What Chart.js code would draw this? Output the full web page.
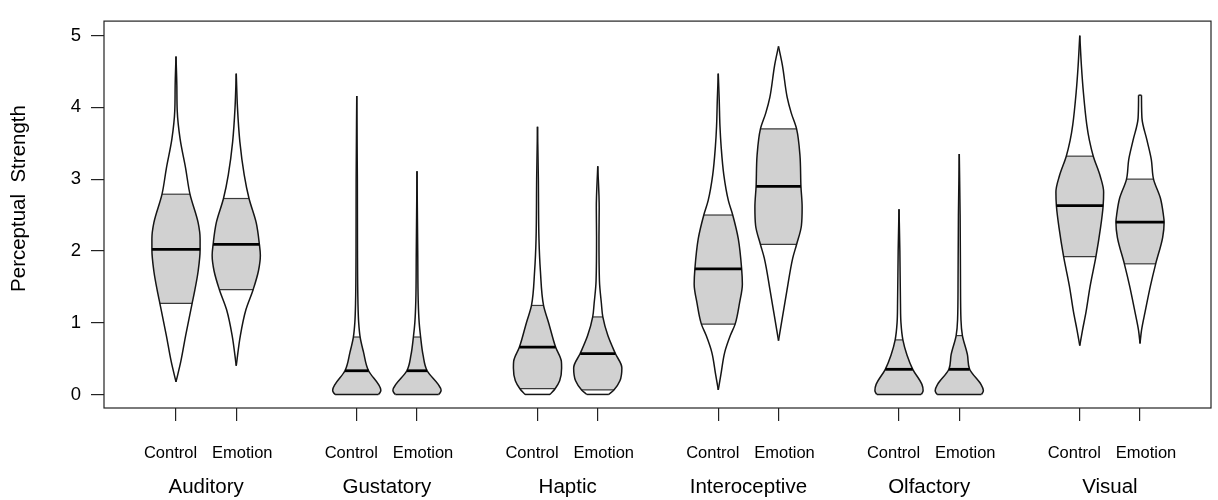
<!DOCTYPE html>
<html>
<head>
<meta charset="utf-8">
<script src="https://cdn.jsdelivr.net/npm/chart.js@4.4.1/dist/chart.umd.min.js"></script>
<style>
  html, body { margin: 0; padding: 0; background: #ffffff; }
  #wrap { width: 1218px; height: 500px; }
</style>
</head>
<body>
<div id="wrap"><canvas id="chart" width="1218" height="500"></canvas></div>
<script>
// ---------------- DATA ----------------
const groups = ["Auditory", "Gustatory", "Haptic", "Interoceptive", "Olfactory", "Visual"];
const conditions = ["Control", "Emotion"];
const yTickValues = [0, 1, 2, 3, 4, 5];
const yTitle = "Perceptual  Strength";

// one entry per bean, order: group x condition
const beanMedian = [2.02, 2.09, 0.33, 0.33, 0.66, 0.57, 1.75, 2.90, 0.35, 0.35, 2.63, 2.40];
const beanLower  = [1.27, 1.46, 0.00, 0.00, 0.08, 0.063, 0.98, 2.09, 0.00, 0.00, 1.92, 1.82];
const beanUpper  = [2.79, 2.73, 0.80, 0.80, 1.24, 1.08, 2.50, 3.70, 0.76, 0.82, 3.32, 3.00];

// density outline of each bean: rating values and relative density (1 = widest)
const densityY = [
  [0.175, 0.46, 0.82, 1.27, 1.40, 1.72, 2.02, 2.17, 2.39, 2.79, 3.15, 3.56, 3.96, 4.30, 4.71],
  [0.40, 0.82, 1.18, 1.46, 1.72, 1.94, 2.09, 2.39, 2.73, 3.06, 3.52, 4.00, 4.47],
  [0, 0.03, 0.06, 0.14, 0.33, 0.59, 0.80, 1.00, 1.27, 2.00, 3.00, 4.16],
  [0, 0.03, 0.06, 0.14, 0.33, 0.55, 0.80, 1.00, 1.30, 2.00, 3.11],
  [0, 0.08, 0.19, 0.37, 0.46, 0.66, 1.00, 1.24, 1.72, 2.17, 3.00, 3.73],
  [0, 0.063, 0.19, 0.37, 0.57, 0.82, 1.08, 1.27, 1.58, 2.20, 2.60, 3.18],
  [0.063, 0.28, 0.59, 0.82, 0.98, 1.27, 1.54, 1.75, 2.17, 2.50, 2.70, 3.06, 3.45, 3.74, 4.10, 4.47],
  [0.75, 1.09, 1.45, 1.90, 2.09, 2.35, 2.61, 2.90, 3.33, 3.70, 3.92, 4.14, 4.59, 4.85],
  [0, 0.03, 0.054, 0.14, 0.35, 0.55, 0.76, 1.00, 1.27, 2.00, 2.58],
  [0, 0.03, 0.054, 0.14, 0.35, 0.55, 0.82, 1.04, 1.60, 2.50, 3.35],
  [0.68, 0.89, 1.15, 1.51, 1.92, 2.32, 2.63, 2.82, 3.04, 3.32, 3.54, 3.76, 4.21, 4.57, 5.00],
  [0.71, 0.89, 1.15, 1.51, 1.82, 2.19, 2.40, 2.50, 2.73, 3.00, 3.27, 3.54, 3.85, 4.17]
];
const densityW = [
  [0, 0.20, 0.40, 0.67, 0.75, 0.92, 1.00, 1.00, 0.92, 0.58, 0.40, 0.17, 0.05, 0.035, 0],
  [0, 0.17, 0.40, 0.70, 0.92, 1.00, 0.96, 0.83, 0.53, 0.33, 0.15, 0.05, 0],
  [0.90, 0.97, 1.00, 0.90, 0.49, 0.28, 0.14, 0.08, 0.05, 0.03, 0.025, 0],
  [0.90, 0.97, 1.00, 0.88, 0.42, 0.25, 0.15, 0.09, 0.05, 0.03, 0],
  [0.52, 0.73, 0.92, 1.00, 0.99, 0.75, 0.46, 0.25, 0.12, 0.06, 0.035, 0],
  [0.46, 0.67, 0.92, 1.00, 0.73, 0.42, 0.21, 0.15, 0.07, 0.05, 0.06, 0],
  [0, 0.11, 0.27, 0.50, 0.70, 0.88, 1.00, 0.97, 0.83, 0.60, 0.42, 0.23, 0.12, 0.07, 0.04, 0],
  [0, 0.17, 0.35, 0.59, 0.75, 0.95, 0.98, 0.93, 0.89, 0.75, 0.53, 0.36, 0.16, 0],
  [0.92, 0.98, 1.00, 0.95, 0.57, 0.33, 0.16, 0.08, 0.06, 0.035, 0],
  [0.92, 0.98, 1.00, 0.90, 0.43, 0.34, 0.13, 0.07, 0.05, 0.035, 0],
  [0, 0.11, 0.26, 0.43, 0.67, 0.86, 0.97, 0.99, 0.85, 0.56, 0.40, 0.29, 0.15, 0.07, 0],
  [0, 0.06, 0.21, 0.43, 0.65, 0.94, 1.00, 0.97, 0.85, 0.56, 0.47, 0.29, 0.08, 0.06]
];

// ---------------- STYLE / LAYOUT ----------------
const FONT = "'Liberation Sans', Arial, Helvetica, sans-serif";
const X_MIN = -0.195, X_MAX = 18.178;
const Y_MIN = -0.189, Y_MAX = 5.202;
const HALF_W = 0.4;             // half width of the widest bean, in x units
const AXIS = '#222222';
const OUTLINE = '#151515';
const BAND_FILL = '#d1d1d1';
const BAND_EDGE = '#3a3a3a';

const positions = [];
groups.forEach((g, gi) => conditions.forEach((c, ci) => positions.push(gi * 3 + ci + 1)));

function nearestIndex(arr, v) {
  let best = 0;
  for (let i = 0; i < arr.length; i++) if (Math.abs(arr[i] - v) < Math.abs(arr[best] - v)) best = i;
  return best;
}

const datasets = [];
function segment(p, y, w, color, width, order) {
  return {
    data: [{x: p - HALF_W * w, y: y}, {x: p + HALF_W * w, y: y}],
    borderColor: color, borderWidth: width, fill: false, tension: 0,
    order: order, pointRadius: 0, borderCapStyle: 'butt'
  };
}

positions.forEach((p, b) => {
  const ys = densityY[b], ws = densityW[b];
  const iLo = nearestIndex(ys, beanLower[b]);
  const iHi = nearestIndex(ys, beanUpper[b]);
  const iMed = nearestIndex(ys, beanMedian[b]);
  const right = ys.map((y, i) => ({x: p + HALF_W * ws[i], y: y}));
  const left = ys.map((y, i) => ({x: p - HALF_W * ws[i], y: y}));

  // inference band fill (between right and left edge, lower..upper)
  const rIdx = datasets.length;
  datasets.push({data: right.slice(iLo, iHi + 1), borderWidth: 0, borderColor: 'rgba(0,0,0,0)',
    fill: false, order: 10, cubicInterpolationMode: 'monotone', pointRadius: 0});
  datasets.push({data: left.slice(iLo, iHi + 1), borderWidth: 0, borderColor: 'rgba(0,0,0,0)',
    fill: {target: rIdx}, backgroundColor: BAND_FILL, order: 10, cubicInterpolationMode: 'monotone', pointRadius: 0});

  // bean outline
  datasets.push({data: right, borderColor: OUTLINE, borderWidth: 1.5, fill: false, order: 1,
    cubicInterpolationMode: 'monotone', pointRadius: 0});
  datasets.push({data: left, borderColor: OUTLINE, borderWidth: 1.5, fill: false, order: 1,
    cubicInterpolationMode: 'monotone', pointRadius: 0});
  if (ws[0] > 0) datasets.push(segment(p, ys[0], ws[0], OUTLINE, 1.5, 1));
  if (ws[ws.length - 1] > 0) datasets.push(segment(p, ys[ys.length - 1], ws[ws.length - 1], OUTLINE, 1.5, 1));

  // band edges and median
  if (iLo > 0) datasets.push(segment(p, ys[iLo], ws[iLo], BAND_EDGE, 1.2, 2));
  datasets.push(segment(p, ys[iHi], ws[iHi], BAND_EDGE, 1.2, 2));
  datasets.push(segment(p, ys[iMed], ws[iMed], '#000000', 2.8, 0));
});

const decor = {
  id: 'decor',
  afterDraw(chart) {
    const ctx = chart.ctx, a = chart.chartArea, xs = chart.scales.x;
    ctx.save();
    ctx.strokeStyle = AXIS;
    ctx.lineWidth = 1.2;
    ctx.strokeRect(a.left, a.top, a.right - a.left, a.bottom - a.top);

    ctx.fillStyle = '#000000';
    ctx.textAlign = 'center';
    ctx.textBaseline = 'alphabetic';
    ctx.font = '16.5px ' + FONT;
    positions.forEach((p, b) => {
      const ci = b % 2;
      const x = xs.getPixelForValue(p) + (ci === 0 ? -5.5 : 6);
      ctx.fillText(conditions[ci], x, 458);
    });
    ctx.font = '20.5px ' + FONT;
    groups.forEach((g, gi) => {
      ctx.fillText(g, xs.getPixelForValue(gi * 3 + 1.5), 493);
    });

    ctx.translate(25, 198.5);
    ctx.rotate(-Math.PI / 2);
    ctx.font = '20.5px ' + FONT;
    ctx.fillText(yTitle, 0, 0);
    ctx.restore();
  }
};

new Chart(document.getElementById('chart'), {
  type: 'line',
  data: { datasets: datasets },
  options: {
    indexAxis: 'y',
    responsive: false,
    devicePixelRatio: 1,
    animation: false,
    events: [],
    layout: { padding: { top: 8, right: 7, left: 0, bottom: 0 } },
    elements: { point: { radius: 0 } },
    plugins: { legend: { display: false }, tooltip: { enabled: false }, filler: { propagate: false } },
    scales: {
      x: {
        type: 'linear', position: 'bottom', min: X_MIN, max: X_MAX,
        afterBuildTicks: s => { s.ticks = positions.map(v => ({value: v})); },
        afterFit: s => { s.height = 92; },
        ticks: { display: false },
        grid: { drawOnChartArea: false, drawTicks: true, tickLength: 13, color: AXIS, lineWidth: 1.2 },
        border: { display: false }
      },
      y: {
        type: 'linear', position: 'left', min: Y_MIN, max: Y_MAX,
        afterBuildTicks: s => { s.ticks = yTickValues.map(v => ({value: v})); },
        afterFit: s => { s.width = 104; },
        ticks: { font: { family: FONT, size: 18.5 }, color: '#000000', padding: 10,
                 callback: v => String(v) },
        grid: { drawOnChartArea: false, drawTicks: true, tickLength: 13, color: AXIS, lineWidth: 1.2 },
        border: { display: false }
      }
    }
  },
  plugins: [decor]
});
</script>
</body>
</html>
